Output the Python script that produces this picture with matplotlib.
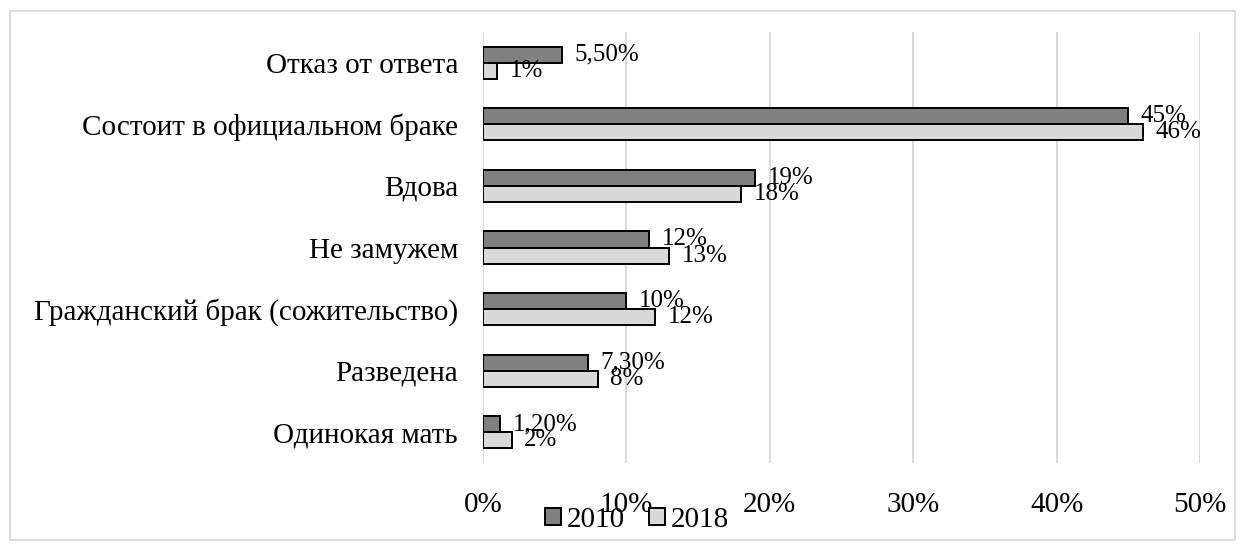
import matplotlib
matplotlib.use("Agg")
import matplotlib.pyplot as plt
from matplotlib.patches import Rectangle, Patch
import numpy as np

categories = ["Отказ от ответа", "Состоит в официальном браке", "Вдова", "Не замужем",
              "Гражданский брак (сожительство)", "Разведена", "Одинокая мать"]
values_2010 = [5.5, 45, 19, 11.6, 10, 7.3, 1.2]
values_2018 = [1, 46, 18, 13, 12, 8, 2]
labels_2010 = ["5,50%", "45%", "19%", "12%", "10%", "7,30%", "1,20%"]
labels_2018 = ["1%", "46%", "18%", "13%", "12%", "8%", "2%"]
xticks = [0, 10, 20, 30, 40, 50]
xtick_labels = ["0%", "10%", "20%", "30%", "40%", "50%"]
series_names = ["2010", "2018"]

plt.rcParams['font.family'] = ['Liberation Serif', 'DejaVu Serif']

W, H = 1245, 550
fig = plt.figure(figsize=(W / 100, H / 100), dpi=100)
ax = fig.add_axes([483 / W, 1 - 463 / H, (1200 - 483) / W, (463 - 32) / H])

dark = "#808080"
light = "#d9d9d9"
y = np.arange(len(categories))
bh = 0.26
ax.barh(y - bh / 2, values_2010, height=bh, color=dark, edgecolor="black", linewidth=1.4, zorder=3)
ax.barh(y + bh / 2, values_2018, height=bh, color=light, edgecolor="black", linewidth=1.4, zorder=3)

for i in range(len(categories)):
    ax.annotate(labels_2010[i], (values_2010[i], y[i] - bh / 2), xytext=(9, 0),
                textcoords="offset points", va="center", ha="left", fontsize=18, zorder=4)
    ax.annotate(labels_2018[i], (values_2018[i], y[i] + bh / 2), xytext=(9, 0),
                textcoords="offset points", va="center", ha="left", fontsize=18, zorder=4)

ax.set_ylim(len(categories) - 0.5, -0.5)
ax.set_xlim(0, 50)
ax.set_yticks(y)
ax.set_yticklabels(categories, fontsize=21)
ax.set_xticks(xticks)
ax.set_xticklabels(xtick_labels, fontsize=21)
ax.tick_params(axis="both", length=0)
ax.tick_params(axis="x", pad=21)
ax.tick_params(axis="y", pad=18)
for s in ax.spines.values():
    s.set_visible(False)
ax.grid(axis="x", color="#d9d9d9", linewidth=1.4, zorder=0)
ax.set_axisbelow(True)

handles = [Patch(facecolor=dark, edgecolor="black", linewidth=1.4),
           Patch(facecolor=light, edgecolor="black", linewidth=1.4)]
fig.legend(handles, series_names, loc="center", bbox_to_anchor=(637 / W, 1 - 520 / H),
           ncol=2, frameon=False, fontsize=21, handlelength=0.55, handleheight=0.55,
           handletextpad=0.2, columnspacing=0.8, borderpad=0.1)

fig.patches.append(Rectangle((10 / W, 1 - 540 / H), (1235 - 10) / W, (540 - 11) / H,
                             transform=fig.transFigure, fill=False, edgecolor="#d9d9d9",
                             linewidth=1.3))

fig.savefig("out.png", dpi=100)
